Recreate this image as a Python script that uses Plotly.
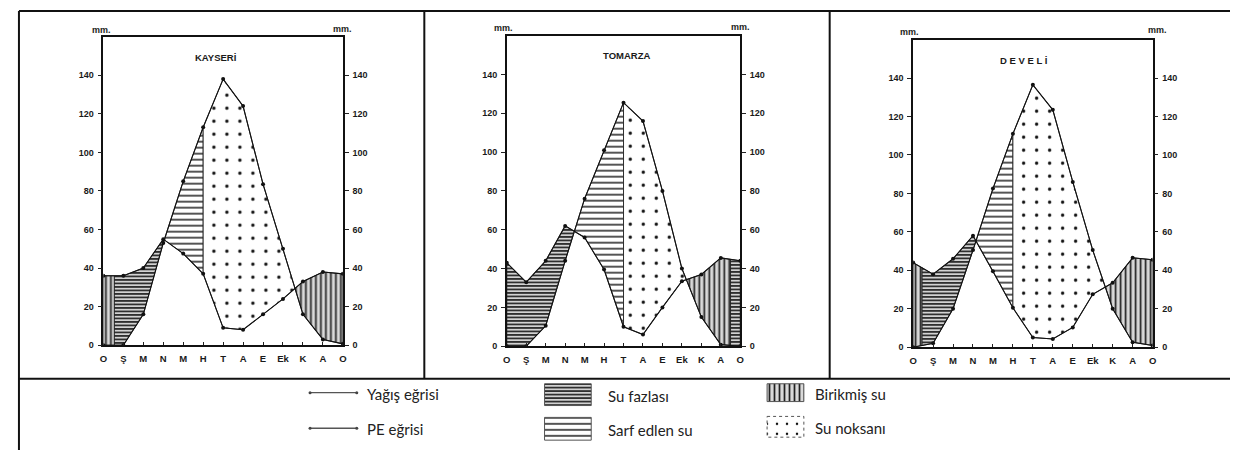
import numpy as np
import plotly.graph_objects as go

# ---------------- data ----------------
MONTHS = ["O", "Ş", "M", "N", "M", "H", "T", "A", "E", "Ek", "K", "A", "O"]
MONTH_POS = list(range(13))
Y_TICKS = [0, 20, 40, 60, 80, 100, 120, 140]

KAYSERI_P = [36, 36, 40, 55, 47.5, 37, 9, 8, 16, 24, 33, 38, 37]
KAYSERI_PE = [0, 0, 16, 53, 85, 113, 138, 124, 83.5, 50, 16, 3, 0.7]
TOMARZA_P = [43, 33, 44, 62, 56, 39.5, 10, 6, 20, 33.5, 37, 45.5, 44]
TOMARZA_PE = [0, 0, 10.5, 44, 76, 101, 125.5, 116, 80, 40, 15, 0.8, 0]
DEVELI_P = [44, 38, 46, 58, 39.5, 20.5, 5, 4.3, 10.3, 27.5, 33.5, 46.5, 45.5]
DEVELI_PE = [0, 2, 20, 50.5, 82.5, 111, 136.5, 123.5, 86, 50.5, 20, 2.6, 0.9]

# month positions where one water-balance period changes into another
KAYSERI_BREAKS = {"recharge_end": 0.55, "deficit_start": 5, "surplus_start": None}
TOMARZA_BREAKS = {"recharge_end": None, "deficit_start": 6, "surplus_start": 11.5}
DEVELI_BREAKS = {"recharge_end": 0.45, "deficit_start": 5, "surplus_start": None}

STATIONS = [
    ("KAYSERİ", KAYSERI_P, KAYSERI_PE, KAYSERI_BREAKS),
    ("TOMARZA", TOMARZA_P, TOMARZA_PE, TOMARZA_BREAKS),
    ("DEVELİ", DEVELI_P, DEVELI_PE, DEVELI_BREAKS),
]

LEGEND_LINES = ["Yağış eğrisi", "PE eğrisi"]
LEGEND_AREAS = ["Su fazlası", "Sarf edlen su", "Birikmiş su", "Su noksanı"]

# ---------------- styling / layout ----------------
W, H = 1238, 450
PANELS = [  # plot-area pixel boxes: x0, x1, ytop, ybottom
    (92, 333, 29, 341),
    (498, 733, 28, 342),
    (907, 1148, 32, 343),
]
TITLE_POS = [(205, 50), (618, 48), (1018, 53)]
MM_POS = [((90, 22), (333, 21)), ((495, 20), (733, 19)), ((903, 24), (1153, 22))]

PATTERNS = {
    "Su fazlası": dict(shape="-", size=3.5, solidity=0.45, fgcolor="#1c1c1c", bgcolor="#d2d2d2", fillmode="replace"),
    "Sarf edlen su": dict(shape="-", size=6, solidity=0.25, fgcolor="#1c1c1c", bgcolor="white", fillmode="replace"),
    "Birikmiş su": dict(shape="|", size=5, solidity=0.35, fgcolor="#222222", bgcolor="#d9d9d9", fillmode="replace"),
    "Su noksanı": dict(shape=".", size=13, solidity=0.05, fgcolor="#111111", bgcolor="white", fillmode="replace"),
}

FONT_AX = dict(family="Liberation Sans", size=9, color="#1a1a1a", weight="bold")


def px(x):
    return x / W


def py(y):
    return 1 - y / H


def crossings(P, PE):
    d = np.array(P, float) - np.array(PE, float)
    out = []
    for i in range(len(d) - 1):
        if d[i] * d[i + 1] < 0:
            out.append(i + d[i] / (d[i] - d[i + 1]))
    return out


def band(x0, x1, P, PE):
    xs = np.array(MONTH_POS, float)
    pts = [x0] + [x for x in xs if x0 < x < x1] + [x1]
    top = np.interp(pts, xs, P)
    bot = np.interp(pts, xs, PE)
    X = list(pts) + list(pts[::-1]) + [pts[0]]
    Y = list(top) + list(bot[::-1]) + [top[0]]
    return X, Y


fig = go.Figure()
layout = dict()
annotations = []

for i, (name, P, PE, br) in enumerate(STATIONS):
    sx = "" if i == 0 else str(i + 1)
    xref, yref, yref_r = "x" + sx, "y" + sx, "y" + str(i + 4)
    c1, c2 = crossings(P, PE)

    regions = []
    if br["recharge_end"] is not None:
        regions.append((0, br["recharge_end"], "Birikmiş su"))
        regions.append((br["recharge_end"], c1, "Su fazlası"))
    else:
        regions.append((0, c1, "Su fazlası"))
    regions.append((c1, br["deficit_start"], "Sarf edlen su"))
    regions.append((br["deficit_start"], c2, "Su noksanı"))
    if br["surplus_start"] is not None:
        regions.append((c2, br["surplus_start"], "Birikmiş su"))
        regions.append((br["surplus_start"], 12, "Su fazlası"))
    else:
        regions.append((c2, 12, "Birikmiş su"))

    for a, b, kind in regions:
        X, Y = band(a, b, P, PE)
        fig.add_trace(go.Scatter(
            x=X, y=Y, mode="lines", fill="toself", fillcolor="white",
            fillpattern=PATTERNS[kind], line=dict(color="#222", width=0.9),
            xaxis=xref, yaxis=yref, showlegend=False, hoverinfo="skip"))

    for series, nm in ((P, "Yağış"), (PE, "PE")):
        fig.add_trace(go.Scatter(
            x=MONTH_POS, y=series, mode="lines+markers", name=nm,
            line=dict(color="#111", width=1.1), marker=dict(color="#111", size=4),
            xaxis=xref, yaxis=yref, showlegend=False))
    # dummy trace so the right-hand axis gets drawn
    fig.add_trace(go.Scatter(x=[None], y=[None], xaxis=xref, yaxis=yref_r,
                             showlegend=False, hoverinfo="skip"))

    x0, x1, yt, yb = PANELS[i]
    layout["xaxis" + sx] = dict(
        domain=[px(x0), px(x1)], anchor=yref, range=[0, 12],
        tickmode="array", tickvals=MONTH_POS, ticktext=MONTHS,
        ticks="inside", ticklen=3, tickcolor="#222", tickwidth=1,
        showline=True, mirror=True, linecolor="#111", linewidth=1.6,
        showgrid=False, zeroline=False, tickfont=dict(FONT_AX, size=9.5),
        ticklabelstandoff=4, fixedrange=True)
    layout["yaxis" + sx] = dict(
        domain=[py(yb), py(yt)], anchor=xref, range=[0, 160],
        tickmode="array", tickvals=Y_TICKS, ticks="outside", ticklen=4,
        tickcolor="#222", showline=True, linecolor="#111", linewidth=1.6,
        showgrid=False, zeroline=False, tickfont=FONT_AX, ticklabelstandoff=2,
        fixedrange=True)
    layout["yaxis" + str(i + 4)] = dict(
        overlaying=yref, side="right", anchor=xref, range=[0, 160],
        tickmode="array", tickvals=Y_TICKS, ticks="outside", ticklen=4,
        tickcolor="#222", showline=True, linecolor="#111", linewidth=1.6,
        showgrid=False, zeroline=False, tickfont=FONT_AX, ticklabelstandoff=2,
        fixedrange=True)

    tx, ty = TITLE_POS[i]
    annotations.append(dict(x=px(tx), y=py(ty), xref="paper", yref="paper", text=" ".join(name) if i == 2 else name,
                            showarrow=False,
                            font=dict(family="Liberation Sans", size=9.5, color="#1a1a1a", weight="bold"),
                            xanchor="center", yanchor="middle"))
    for (mx, my) in MM_POS[i]:
        annotations.append(dict(x=px(mx), y=py(my), xref="paper", yref="paper", text="mm.",
                                showarrow=False,
                                font=dict(family="Liberation Sans", size=9, color="#1a1a1a", weight="bold"),
                                xanchor="center", yanchor="middle"))

# ---------------- legend (drawn in its own pixel-scaled axis) ----------------
LX, LY = "x4", "y7"
layout["xaxis4"] = dict(domain=[0, 1], anchor="y7", range=[0, W], visible=False, fixedrange=True)
layout["yaxis7"] = dict(domain=[0, py(375)], anchor="x4", range=[H, 375], visible=False, fixedrange=True)

line_rows = [389, 425]
for lbl, yy in zip(LEGEND_LINES, line_rows):
    fig.add_trace(go.Scatter(x=[300, 347], y=[yy, yy], mode="lines+markers",
                             line=dict(color="#555", width=1.4), marker=dict(size=3, color="#444"),
                             xaxis=LX, yaxis=LY, showlegend=False, hoverinfo="skip"))
    annotations.append(dict(x=355, y=yy + 1, xref=LX, yref=LY, text=lbl, showarrow=False,
                            xanchor="left", yanchor="middle",
                            font=dict(family="Lato", size=15, color="#222")))

swatches = [  # x0, x1, y0, y1 in pixels
    (536, 583, 380, 402), (536, 583, 414, 437),
    (760, 797, 380, 398), (760, 797, 413, 434),
]
text_x = [598, 598, 806, 806]
for lbl, (a, b, c, d), tx in zip(LEGEND_AREAS, swatches, text_x):
    dash = "dot" if lbl == "Su noksanı" else "solid"
    pat = dict(PATTERNS[lbl])
    if lbl == "Su noksanı":
        pat["size"] = 10
    fig.add_trace(go.Scatter(x=[a, b, b, a, a], y=[c, c, d, d, c], mode="lines", fill="toself",
                             fillcolor="white", fillpattern=pat,
                             line=dict(color="#555", width=1, dash=dash),
                             xaxis=LX, yaxis=LY, showlegend=False, hoverinfo="skip"))
    annotations.append(dict(x=tx, y=(c + d) / 2 + 1, xref=LX, yref=LY, text=lbl, showarrow=False,
                            xanchor="left", yanchor="middle",
                            font=dict(family="Lato", size=15, color="#222")))

# ---------------- frame lines ----------------
shapes = []
frame = dict(type="line", xref="paper", yref="paper", line=dict(color="#111", width=2))
for (xa, ya, xb, yb) in [(7, 3, 1231, 3), (7, 3, 7, 450), (1231, 3, 1231, 450),
                         (7, 375, 1231, 375), (415, 3, 415, 375), (823, 3, 823, 375)]:
    shapes.append(dict(frame, x0=px(xa), y0=py(ya), x1=px(xb), y1=py(yb)))

fig.update_layout(
    width=W, height=H, margin=dict(l=0, r=0, t=0, b=0),
    paper_bgcolor="white", plot_bgcolor="white",
    annotations=annotations, shapes=shapes, showlegend=False,
    **layout)

fig.write_html("out.html")
